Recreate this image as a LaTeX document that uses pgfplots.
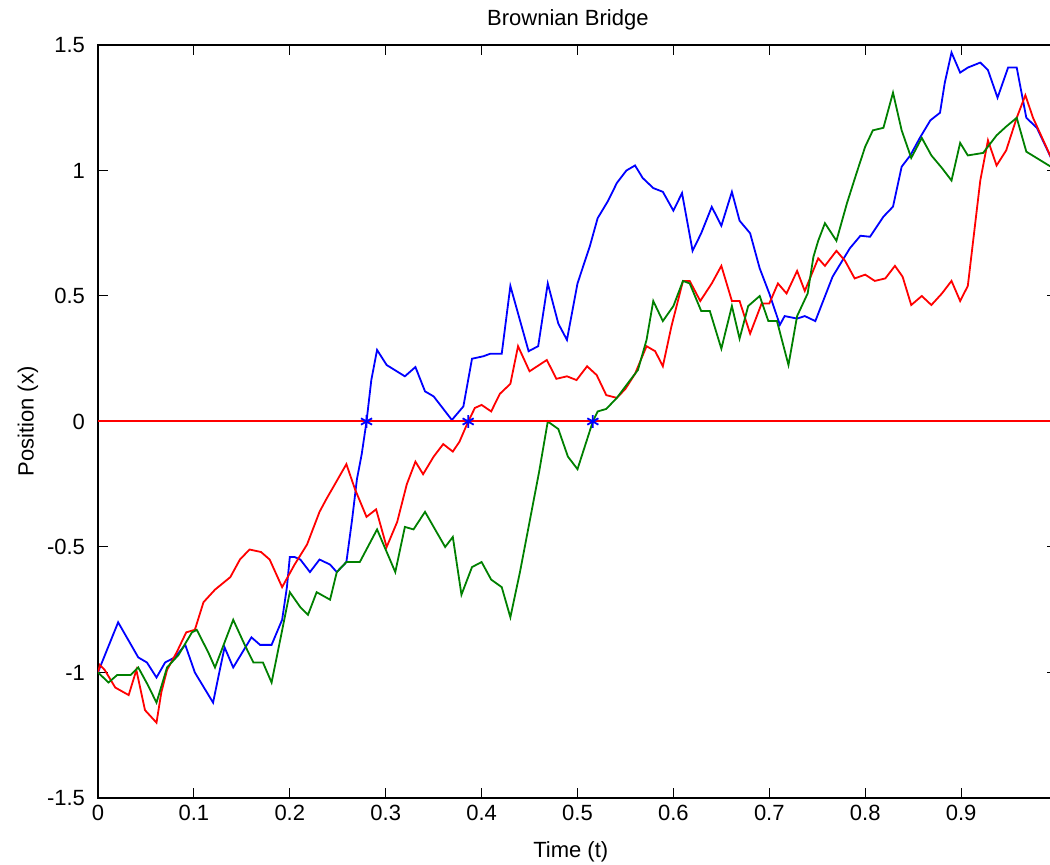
\documentclass[border=0pt]{standalone}
\usepackage{pgfplots}
\pgfplotsset{compat=1.18}
\usepackage{fontspec}
\setmainfont{Liberation Sans}
\definecolor{mblue}{RGB}{0,0,255}
\definecolor{mred}{RGB}{255,0,0}
\definecolor{mgreen}{RGB}{0,128,0}
\begin{document}
\begin{tikzpicture}
\useasboundingbox (-49pt,-33.5pt) rectangle (476pt,399pt);
\begin{axis}[
  at={(0,0)}, anchor=south west,
  scale only axis, width=479.5pt, height=376.5pt,
  xmin=0, xmax=1, ymin=-1.5, ymax=1.5,
  xtick={0,0.1,0.2,0.3,0.4,0.5,0.6,0.7,0.8,0.9,1},
  ytick={-1.5,-1,-0.5,0,0.5,1,1.5},
  xticklabels={0,0.1,0.2,0.3,0.4,0.5,0.6,0.7,0.8,0.9,{}},
  yticklabels={-1.5,-1,-0.5,0,0.5,1,1.5},
  tick align=inside, major tick length=4.8pt,
  tick style={black, line width=0.5pt},
  axis line style={black, line width=0.8pt},
  tick label style={font=\fontsize{11}{13}\selectfont},
  yticklabel style={xshift=-3pt},
  label style={font=\fontsize{11}{13}\selectfont},
  title style={font=\fontsize{11}{13}\selectfont, at={(axis description cs:0.49,1)}, anchor=center, yshift=6.5pt},
  title={Brownian Bridge},
  xlabel={Time (t)},
  ylabel={Position (x)},
  xlabel style={at={(axis description cs:0.493,0)}, anchor=center, yshift=-27pt},
  ylabel style={at={(axis description cs:-0.073,0.5)}, anchor=center},
  clip=true,
]
\addplot[mblue, line width=0.9pt] coordinates {
(0,-1.0) (0.002,-0.98) (0.021,-0.80) (0.042,-0.94) (0.051,-0.96) (0.061,-1.02)
(0.07,-0.96) (0.08,-0.94) (0.091,-0.89) (0.101,-1.0) (0.12,-1.12) (0.127,-0.99)
(0.132,-0.90) (0.141,-0.98) (0.160,-0.86) (0.169,-0.89) (0.181,-0.89) (0.192,-0.79)
(0.197,-0.66) (0.2,-0.54) (0.205,-0.54) (0.211,-0.55) (0.221,-0.60) (0.231,-0.55)
(0.242,-0.57) (0.249,-0.60) (0.259,-0.56) (0.265,-0.39) (0.27,-0.23) (0.275,-0.13)
(0.28,0.0) (0.285,0.165) (0.291,0.285) (0.301,0.225) (0.32,0.18) (0.331,0.217)
(0.341,0.12) (0.35,0.10) (0.369,0.006) (0.381,0.06) (0.39,0.25) (0.402,0.26)
(0.409,0.27) (0.421,0.27) (0.43,0.54) (0.449,0.28) (0.459,0.30) (0.469,0.55)
(0.48,0.39) (0.489,0.325) (0.50,0.55) (0.513,0.70) (0.521,0.81) (0.532,0.88)
(0.541,0.95) (0.551,1.0) (0.56,1.02) (0.568,0.97) (0.579,0.93) (0.589,0.915)
(0.60,0.84) (0.609,0.91) (0.62,0.68) (0.629,0.75) (0.64,0.855) (0.65,0.78)
(0.661,0.915) (0.669,0.80) (0.68,0.75) (0.69,0.61) (0.70,0.51) (0.711,0.385)
(0.716,0.42) (0.729,0.41) (0.737,0.42) (0.748,0.40) (0.766,0.577) (0.784,0.69) (0.795,0.74)
(0.805,0.736) (0.819,0.816) (0.829,0.856) (0.838,1.015) (0.847,1.06) (0.857,1.13)
(0.868,1.20) (0.878,1.23) (0.883,1.35) (0.89,1.47) (0.899,1.39) (0.907,1.41)
(0.92,1.43) (0.928,1.40) (0.938,1.29) (0.949,1.41) (0.958,1.41) (0.968,1.21)
(0.979,1.17) (1.0,1.0)
};
\addplot[mred, line width=0.9pt] coordinates {
(0,-1.0) (0.002,-0.97) (0.007,-0.99) (0.018,-1.06) (0.032,-1.09) (0.04,-0.99)
(0.049,-1.15) (0.061,-1.20) (0.066,-1.08) (0.072,-0.99) (0.082,-0.92) (0.092,-0.84)
(0.101,-0.83) (0.11,-0.72) (0.122,-0.67) (0.138,-0.62) (0.148,-0.55) (0.158,-0.51)
(0.17,-0.52) (0.179,-0.55) (0.192,-0.66) (0.205,-0.57) (0.218,-0.49) (0.231,-0.36)
(0.238,-0.31) (0.259,-0.17) (0.268,-0.27) (0.28,-0.38) (0.29,-0.35) (0.301,-0.50)
(0.312,-0.40) (0.322,-0.25) (0.331,-0.16) (0.339,-0.21) (0.35,-0.14) (0.36,-0.09)
(0.37,-0.12) (0.377,-0.08) (0.386,0.0) (0.393,0.054) (0.40,0.066) (0.41,0.04)
(0.419,0.11) (0.43,0.15) (0.438,0.30) (0.45,0.20) (0.468,0.245) (0.478,0.17)
(0.489,0.18) (0.499,0.165) (0.51,0.22) (0.52,0.185) (0.53,0.105) (0.541,0.094)
(0.55,0.13) (0.56,0.19) (0.572,0.30) (0.581,0.28) (0.589,0.22) (0.598,0.38)
(0.61,0.56) (0.617,0.56) (0.628,0.48) (0.64,0.55) (0.65,0.62) (0.661,0.48)
(0.669,0.48) (0.68,0.35) (0.692,0.47) (0.70,0.47) (0.709,0.55) (0.718,0.51)
(0.729,0.60) (0.737,0.52) (0.751,0.65) (0.758,0.62) (0.77,0.68) (0.779,0.64)
(0.789,0.57) (0.80,0.585) (0.81,0.56) (0.821,0.57) (0.831,0.62) (0.839,0.577)
(0.848,0.464) (0.859,0.50) (0.869,0.464) (0.88,0.51) (0.89,0.56) (0.899,0.48)
(0.907,0.54) (0.92,0.96) (0.928,1.12) (0.937,1.02) (0.947,1.08) (0.958,1.21)
(0.967,1.30) (0.975,1.21) (1.0,1.0)
};
\addplot[mgreen, line width=0.9pt] coordinates {
(0,-1.0) (0.011,-1.04) (0.02,-1.01) (0.034,-1.01) (0.042,-0.98) (0.052,-1.05)
(0.061,-1.12) (0.072,-0.98) (0.084,-0.93) (0.098,-0.84) (0.103,-0.83) (0.115,-0.92)
(0.122,-0.98) (0.141,-0.79) (0.153,-0.89) (0.162,-0.96) (0.172,-0.96) (0.181,-1.04)
(0.19,-0.87) (0.2,-0.68) (0.211,-0.74) (0.219,-0.77) (0.228,-0.68) (0.242,-0.71)
(0.249,-0.60) (0.259,-0.56) (0.273,-0.56) (0.291,-0.43) (0.31,-0.60) (0.32,-0.42)
(0.329,-0.43) (0.341,-0.36) (0.362,-0.50) (0.37,-0.46) (0.379,-0.69) (0.39,-0.58)
(0.40,-0.56) (0.41,-0.63) (0.421,-0.66) (0.43,-0.78) (0.44,-0.60) (0.45,-0.40)
(0.46,-0.20) (0.469,0.0) (0.48,-0.03) (0.49,-0.14) (0.50,-0.19) (0.516,0.0)
(0.521,0.04) (0.53,0.05) (0.541,0.094) (0.555,0.165) (0.563,0.205) (0.572,0.325)
(0.579,0.48) (0.589,0.40) (0.60,0.46) (0.61,0.56) (0.617,0.55) (0.629,0.44)
(0.638,0.44) (0.65,0.29) (0.661,0.46) (0.669,0.33) (0.678,0.46) (0.69,0.50)
(0.699,0.40) (0.708,0.40) (0.72,0.225) (0.729,0.42) (0.74,0.51) (0.746,0.656)
(0.751,0.72) (0.758,0.79) (0.77,0.72) (0.781,0.87) (0.791,0.99) (0.80,1.095)
(0.808,1.16) (0.819,1.17) (0.829,1.31) (0.838,1.16) (0.848,1.05) (0.859,1.13)
(0.869,1.06) (0.88,1.01) (0.89,0.96) (0.899,1.11) (0.907,1.06) (0.923,1.07)
(0.937,1.14) (0.947,1.175) (0.958,1.21) (0.968,1.075) (1.0,1.0)
};
\addplot[mred, line width=1pt] coordinates {(0,0) (1,0)};
\addplot[only marks, mark=asterisk, mblue, mark size=3.2pt, mark options={line width=0.9pt}] coordinates {(0.28,0) (0.386,0) (0.516,0)};
\end{axis}
\end{tikzpicture}
\end{document}
